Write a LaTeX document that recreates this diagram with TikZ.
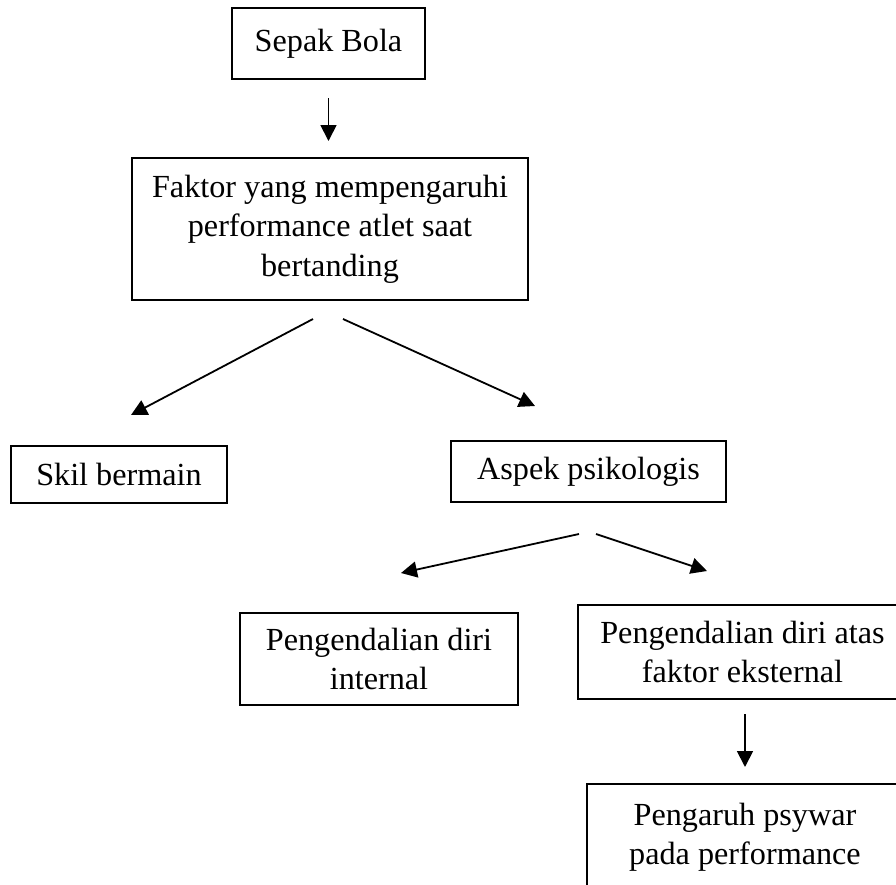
\documentclass[tikz,border=0pt]{standalone}
\usepackage{fontspec}
\setmainfont{Liberation Serif}
\usetikzlibrary{arrows.meta}

\begin{document}
\begin{tikzpicture}[x=0.5pt,y=-0.5pt,
  box/.style={draw=black, line width=1pt, inner sep=0pt, align=center, font=\fontsize{16.1}{19.7}\selectfont},
  arr/.style={line width=0.9pt, -{Triangle[length=8pt,width=8pt]}}]
\useasboundingbox (0,0) rectangle (896,885);
\clip (0,0) rectangle (896,885);
\node [box, minimum width=96.5pt, minimum height=35.5pt] (sepak) at (328.5,43.5) {Sepak Bola};
\node [box, minimum width=198pt, minimum height=71pt] (faktor) at (330,229) {Faktor yang mempengaruhi\\performance atlet saat\\bertanding};
\node [box, minimum width=108pt, minimum height=28.5pt] (skil) at (119,474.5) {Skil bermain};
\node [box, minimum width=137.5pt, minimum height=30.5pt] (aspek) at (588.5,471.5) {Aspek psikologis};
\node [box, minimum width=139pt, minimum height=46pt] (internal) at (379,659) {Pengendalian diri\\internal};
\node [box, minimum width=164.5pt, minimum height=47pt] (eksternal) at (742.5,652) {Pengendalian diri atas\\faktor eksternal};
\node [box, minimum width=158pt, minimum height=53pt] (psywar) at (745,837) {Pengaruh psywar\\pada performance};
\coordinate (faktor-l) at ([shift={(-17,18)}]faktor.south);
\coordinate (faktor-r) at ([shift={(13,18)}]faktor.south);
\coordinate (skil-in) at ([shift={(12,-30)}]skil.north);
\coordinate (aspek-in) at ([shift={(-53.5,-34)}]aspek.north);
\coordinate (aspek-l) at ([shift={(-9.5,31)}]aspek.south);
\coordinate (aspek-r) at ([shift={(7.5,31)}]aspek.south);
\coordinate (internal-in) at ([shift={(22,-39)}]internal.north);
\coordinate (eksternal-in) at ([shift={(-35.5,-33)}]eksternal.north);
\draw [arr, shorten <=9pt, shorten >=8pt] (sepak.south) -- (sepak.south |- faktor.north);
\draw [arr] (faktor-l) -- (skil-in);
\draw [arr] (faktor-r) -- (aspek-in);
\draw [arr] (aspek-l) -- (internal-in);
\draw [arr] (aspek-r) -- (eksternal-in);
\draw [arr, shorten <=7pt, shorten >=8pt] (psywar.north |- eksternal.south) -- (psywar.north);
\end{tikzpicture}
\end{document}
